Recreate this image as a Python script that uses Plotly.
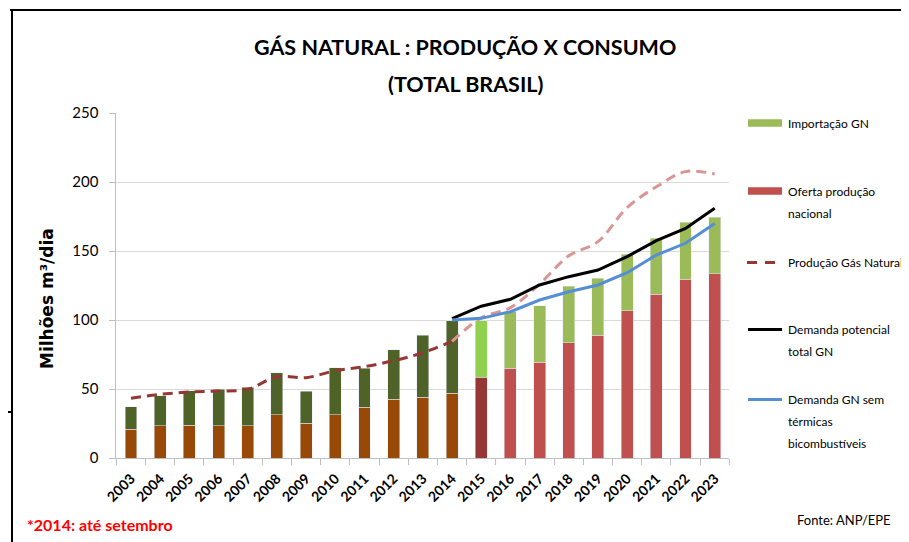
import plotly.graph_objects as go

# ---- data (Milhões m³/dia) ----
years = [str(y) for y in range(2003, 2024)]

oferta_nacional = [20.8, 23.4, 23.9, 23.4, 23.4, 31.2, 25.1, 31.2, 36.7, 42.7, 44.0, 46.9,
                   58.5, 65.0, 69.3, 83.6, 89.1, 106.8, 118.6, 129.7, 133.6]
total_oferta = [37.2, 45.2, 48.6, 50.0, 51.2, 61.8, 48.3, 65.5, 65.0, 78.5, 88.9, 99.5,
                99.3, 106.0, 110.4, 124.6, 130.2, 147.8, 159.2, 170.8, 174.6]
importacao = [round(t - o, 1) for t, o in zip(total_oferta, oferta_nacional)]

prod_years_hist = years[:12]
prod_hist = [43.3, 46.1, 47.8, 48.5, 49.8, 58.9, 58.2, 63.3, 66.2, 70.5, 76.3, 84.5]
prod_years_proj = years[11:]
prod_proj = [84.5, 101.5, 109.0, 126.0, 146.5, 156.8, 181.5, 196.5, 207.5, 205.8]

dem_years = years[11:]
demanda_total = [101.0, 110.0, 115.0, 125.4, 131.4, 136.2, 145.9, 157.5, 166.4, 180.9]
demanda_sem_termicas = [100.0, 101.2, 106.0, 114.5, 120.5, 125.4, 134.3, 147.1, 155.6, 170.0]

# colours: realised (2003-2014), partial 2015, projection
col_prod = ["#984807"] * 12 + ["#953735"] + ["#C0504D"] * 8
col_imp = ["#4F6228"] * 12 + ["#92D050"] + ["#9BBB59"] * 8

FONT = "Lato"
W, H = 909, 542
OFF = 8  # page body margin


def px(x):
    return (x - OFF) / W


def py(y):
    return 1 - (y - OFF) / H


fig = go.Figure()
fig.add_trace(go.Bar(x=years, y=oferta_nacional, marker_color=col_prod,
                     name="Oferta produção nacional"))
fig.add_trace(go.Bar(x=years, y=importacao, marker_color=col_imp, name="Importação GN"))
fig.add_trace(go.Scatter(x=prod_years_hist, y=prod_hist, mode="lines", line_shape="spline",
                         line=dict(color="#953735", width=3, dash="10px,6px"),
                         name="Produção Gás Natural"))
fig.add_trace(go.Scatter(x=prod_years_proj, y=prod_proj, mode="lines", line_shape="spline",
                         line=dict(color="#D99694", width=3, dash="10px,6px"),
                         name="Produção Gás Natural (proj.)"))
fig.add_trace(go.Scatter(x=dem_years, y=demanda_total, mode="lines",
                         line=dict(color="black", width=3), name="Demanda potencial total GN"))
fig.add_trace(go.Scatter(x=dem_years, y=demanda_sem_termicas, mode="lines",
                         line=dict(color="#558ED5", width=3),
                         name="Demanda GN sem térmicas bicombustíveis"))

fig.update_layout(
    width=W, height=H, margin=dict(l=0, r=0, t=0, b=0, autoexpand=False),
    paper_bgcolor="white", plot_bgcolor="white",
    barmode="stack", bargap=0.59, showlegend=False,
    font=dict(family=FONT, color="black"),
    xaxis=dict(domain=[px(116.4), px(729.3)], type="category", automargin=False,
               showline=True, linecolor="#BFBFBF", ticks="outside", tickson="boundaries",
               ticklen=6, tickcolor="#BFBFBF", tickangle=-45, ticklabelstandoff=6,
               tickfont=dict(size=14, weight="bold", family=FONT)),
    yaxis=dict(domain=[py(458), py(113)], range=[0, 250], dtick=50, automargin=False,
               showgrid=True, gridcolor="#D9D9D9", zeroline=False,
               showline=True, linecolor="#BFBFBF", ticks="outside", ticklen=6,
               tickcolor="#BFBFBF", ticklabelstandoff=8, tickfont=dict(size=15, family=FONT)),
)


def note(x, y, text, size, family=FONT, color="black", xanchor="center", angle=0):
    fig.add_annotation(x=px(x), y=py(y), xref="paper", yref="paper", text=text,
                       xanchor=xanchor, yanchor="middle", textangle=angle, showarrow=False,
                       font=dict(size=size, family=family, color=color))


note(465, 47, "<b>GÁS NATURAL : PRODUÇÃO X CONSUMO</b>", 21.5)
note(465, 84, "<b>(TOTAL BRASIL)</b>", 21.5)
note(47, 299, "<b>Milhões m³/dia</b>", 17, family="DejaVu Sans", angle=-90)
note(25, 524, "<b>*2014: até setembro</b>", 16, color="#FF0000", xanchor="left")
note(893, 520, "Fonte: ANP/EPE", 13, xanchor="right")

# manual legend
legend_items = [
    ("rect", "#9BBB59", 123, ["Importação GN"]),
    ("rect", "#C0504D", 191, ["Oferta produção", "nacional"]),
    ("dash", "#953735", 262.5, ["Produção Gás Natural"]),
    ("line", "black", 329.5, ["Demanda potencial", "total GN"]),
    ("line", "#558ED5", 399.5, ["Demanda GN sem", "térmicas", "bicombustíveis"]),
]
for kind, color, ycen, lines in legend_items:
    if kind == "rect":
        fig.add_shape(type="rect", xref="paper", yref="paper", x0=px(748), x1=px(782),
                      y0=py(ycen + 3.7), y1=py(ycen - 3.7), fillcolor=color, line_width=0)
    elif kind == "dash":
        fig.add_shape(type="line", xref="paper", yref="paper", x0=px(747), x1=px(775),
                      y0=py(ycen), y1=py(ycen), line=dict(color=color, width=3, dash="10px,8px"))
    else:
        fig.add_shape(type="line", xref="paper", yref="paper", x0=px(748), x1=px(782),
                      y0=py(ycen), y1=py(ycen), line=dict(color=color, width=3))
    for i, t in enumerate(lines):
        note(786, ycen + i * 22, t, 12, xanchor="left")

# frame
fig.add_shape(type="line", xref="paper", yref="paper", x0=px(10), x1=1, y0=py(10), y1=py(10),
              line=dict(color="black", width=2))
fig.add_shape(type="line", xref="paper", yref="paper", x0=px(12), x1=px(12), y0=py(10), y1=0,
              line=dict(color="black", width=2))
fig.add_shape(type="line", xref="paper", yref="paper", x0=0, x1=px(12), y0=py(412), y1=py(412),
              line=dict(color="black", width=2))

fig.write_html("out.html")
